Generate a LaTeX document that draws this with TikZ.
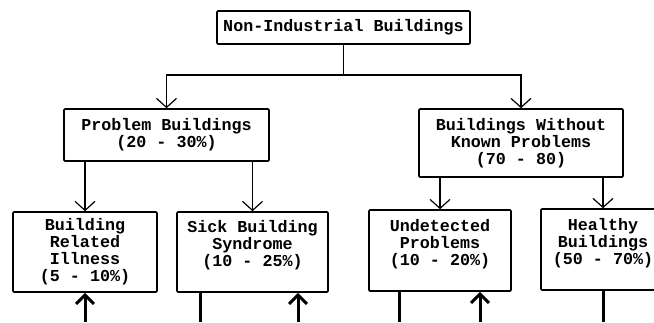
\documentclass[tikz,border=0pt]{standalone}
\usepackage{fontspec}
\setmonofont{Liberation Mono}
\usetikzlibrary{arrows.meta, positioning}

\begin{document}
\begin{tikzpicture}[
    x=1pt, y=1pt,
    font=\ttfamily\bfseries\fontsize{16.7}{17}\selectfont,
    block/.style={rectangle, draw, line width=1.6pt, rounded corners=1pt, align=center, inner sep=0pt},
    link/.style={line width=1.2pt},
    down/.style={link, -{Straight Barb[length=9pt, width=20pt]}},
    lead/.style={line width=3pt},
    feed/.style={lead, -{Straight Barb[length=9pt, width=18pt]}}
]
\clip (0,0) rectangle (654,322);

% Top level
\node[block, minimum width=253, minimum height=33] (all) at (343.5,294.5) {Non-Industrial Buildings};

% Second level
\node[block, minimum width=205, minimum height=52] (prob) at (166.5,187) {Problem Buildings\\(20 - 30\%)};
\node[block, minimum width=204, minimum height=68] (noprob) at (521,179) {Buildings Without\\Known Problems\\(70 - 80)};

% Third level
\node[block, minimum width=144, minimum height=80] (bri) at (85,70) {Building\\Related\\Illness\\(5 - 10\%)};
\node[block, minimum width=151, minimum height=80] (sbs) at (252.5,70) {Sick Building\\Syndrome\\(10 - 25\%)\\\mbox{}};
\node[block, minimum width=142, minimum height=81] (und) at (440,71.5) {Undetected\\Problems\\(10 - 20\%)\\\mbox{}};
\node[block, minimum width=124, minimum height=81] (hea) at (603,72.5) {Healthy\\Buildings\\(50 - 70\%)\\\mbox{}};

% Connections
\coordinate (bar) at (343.5,247);
\draw[link] (all) -- (bar);
\draw[down] (bar) -| (prob);
\draw[down] (bar) -| (noprob);
\draw[down] (prob.south -| bri) -- (bri);
\draw[down] (prob.south -| sbs) -- (sbs);
\draw[down] (noprob.south -| und) -- (und);
\draw[down] (noprob.south -| hea) -- (hea);

% Inflows and outflows
\coordinate (in1) at (85,0);
\coordinate (out2) at (200,0);
\coordinate (in2) at (298,0);
\coordinate (out3) at (399,0);
\coordinate (in3) at (480,0);
\coordinate (out4) at (603,0);
\draw[feed] (in1) -- (bri);
\draw[lead] (sbs.south -| out2) -- (out2);
\draw[feed] (in2) -- (in2 |- sbs.south);
\draw[lead] (und.south -| out3) -- (out3);
\draw[feed] (in3) -- (in3 |- und.south);
\draw[lead] (hea) -- (out4);

\end{tikzpicture}
\end{document}
